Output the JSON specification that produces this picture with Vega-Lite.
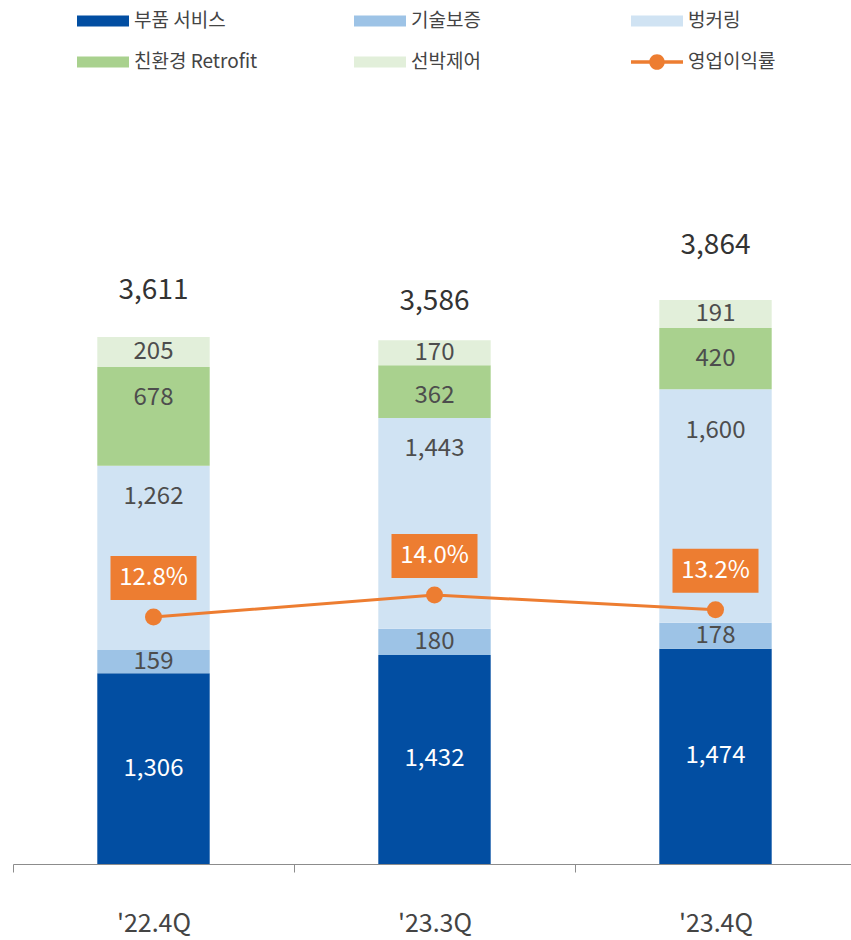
{
  "$schema": "https://vega.github.io/schema/vega-lite/v6.json",
  "width": 838,
  "height": 864,
  "autosize": "none",
  "padding": {"left": 13, "top": 0, "right": 0, "bottom": 76},
  "config": {
    "font": "Noto Sans CJK KR",
    "view": {"stroke": null}
  },
  "datasets": {
    "segs": [
      {"period": "'22.4Q", "cat": "부품 서비스", "k": 1, "value": 1306},
      {"period": "'22.4Q", "cat": "기술보증", "k": 2, "value": 159},
      {"period": "'22.4Q", "cat": "벙커링", "k": 3, "value": 1262},
      {"period": "'22.4Q", "cat": "친환경 Retrofit", "k": 4, "value": 678},
      {"period": "'22.4Q", "cat": "선박제어", "k": 5, "value": 205},
      {"period": "'23.3Q", "cat": "부품 서비스", "k": 1, "value": 1432},
      {"period": "'23.3Q", "cat": "기술보증", "k": 2, "value": 180},
      {"period": "'23.3Q", "cat": "벙커링", "k": 3, "value": 1443},
      {"period": "'23.3Q", "cat": "친환경 Retrofit", "k": 4, "value": 362},
      {"period": "'23.3Q", "cat": "선박제어", "k": 5, "value": 170},
      {"period": "'23.4Q", "cat": "부품 서비스", "k": 1, "value": 1474},
      {"period": "'23.4Q", "cat": "기술보증", "k": 2, "value": 178},
      {"period": "'23.4Q", "cat": "벙커링", "k": 3, "value": 1600},
      {"period": "'23.4Q", "cat": "친환경 Retrofit", "k": 4, "value": 420},
      {"period": "'23.4Q", "cat": "선박제어", "k": 5, "value": 191}
    ],
    "tot": [
      {"period": "'22.4Q", "total": 3611},
      {"period": "'23.3Q", "total": 3586},
      {"period": "'23.4Q", "total": 3864}
    ],
    "rate": [
      {"period": "'22.4Q", "rate": 0.128},
      {"period": "'23.3Q", "rate": 0.140},
      {"period": "'23.4Q", "rate": 0.132}
    ]
  },
  "resolve": {"scale": {"y": "independent"}},
  "layer": [
    {
      "data": {"name": "segs"},
      "transform": [
        {"stack": "value", "groupby": ["period"], "sort": [{"field": "k"}], "as": ["v0", "v1"]},
        {"calculate": "(datum.v0 + datum.v1) / 2", "as": "mid"}
      ],
      "layer": [
        {
          "mark": {"type": "bar"},
          "encoding": {
            "x": {"field": "period", "type": "nominal", "sort": null, "title": null,
                  "scale": {"range": [0, 843], "paddingInner": 0.6, "paddingOuter": 0.3},
                  "axis": {
                    "domainColor": "#8c8c8c",
                    "tickColor": "#8c8c8c",
                    "tickOffset": -140.5,
                    "labelOffset": 140.5,
                    "tickSize": 8,
                    "labelFontSize": 25,
                    "labelColor": "#444444",
                    "labelPadding": 39,
                    "labelAngle": 0,
                    "title": null
                  }},
            "y": {"field": "v0", "type": "quantitative", "axis": null, "scale": {"domain": [0, 5918], "nice": false, "zero": false}},
            "y2": {"field": "v1"},
            "color": {
              "field": "cat", "type": "nominal",
              "scale": {
                "domain": ["부품 서비스", "기술보증", "벙커링", "친환경 Retrofit", "선박제어", "영업이익률"],
                "range": ["#024EA2", "#9DC3E6", "#D0E3F3", "#A9D18E", "#E2EFDA", "#ED7D31"]
              },
              "legend": {
                "title": null,
                "orient": "none",
                "legendX": 77,
                "legendY": 8,
                "direction": "horizontal",
                "columns": 3,
                "gridAlign": "all",
                "columnPadding": 96,
                "rowPadding": 18,
                "padding": 0,
                "symbolType": "M-2,-0.42H2V0.42H-2Z",
                "symbolSize": 676,
                "symbolStrokeWidth": 0,
                "symbolOpacity": 1,
                "labelOffset": 18,
                "labelFontSize": 19,
                "labelColor": "#444444",
                "labelLimit": 300,
                "encode": {
                  "symbols": {
                    "update": {
                      "shape": [
                        {"test": "datum.value === '영업이익률'", "value": "M-2,-0.13H2V0.13H-2Z M-0.6,0A0.6,0.6 0 1,1 0.6,0A0.6,0.6 0 1,1 -0.6,0Z"},
                        {"value": "M-2,-0.42H2V0.42H-2Z"}
                      ]
                    }
                  }
                }
              }
            }
          }
        },
        {
          "transform": [{"filter": "datum.k == 1 || datum.k == 2 || datum.k == 5"}],
          "mark": {"type": "text", "fontSize": 24, "baseline": "middle", "align": "center"},
          "encoding": {
            "x": {"field": "period", "type": "nominal", "sort": null, "title": null},
            "y": {"field": "mid", "type": "quantitative", "axis": null},
            "text": {"field": "value", "type": "quantitative", "format": ","},
            "color": {"condition": {"test": "datum.k == 1", "value": "#ffffff"}, "value": "#4d4d4d"}
          }
        },
        {
          "transform": [{"filter": "datum.k == 4 || (datum.k == 3 && datum.period != \"'23.4Q\")"}],
          "mark": {"type": "text", "fontSize": 24, "baseline": "middle", "align": "center", "dy": 31, "color": "#4d4d4d"},
          "encoding": {
            "x": {"field": "period", "type": "nominal", "sort": null, "title": null},
            "y": {"field": "v1", "type": "quantitative", "axis": null},
            "text": {"field": "value", "type": "quantitative", "format": ","}
          }
        },
        {
          "transform": [{"filter": "datum.k == 3 && datum.period == \"'23.4Q\""}],
          "mark": {"type": "text", "fontSize": 24, "baseline": "middle", "align": "center", "dy": 42, "color": "#4d4d4d"},
          "encoding": {
            "x": {"field": "period", "type": "nominal", "sort": null, "title": null},
            "y": {"field": "v1", "type": "quantitative", "axis": null},
            "text": {"field": "value", "type": "quantitative", "format": ","}
          }
        }
      ]
    },
    {
      "data": {"name": "tot"},
      "encoding": {
        "x": {"field": "period", "type": "nominal", "sort": null, "title": null},
        "y": {"field": "total", "type": "quantitative", "axis": null, "scale": {"domain": [0, 5918], "nice": false, "zero": false}},
        "text": {"field": "total", "type": "quantitative", "format": ","}
      },
      "layer": [
        {
          "transform": [{"filter": "datum.period == \"'22.4Q\""}],
          "mark": {"type": "text", "fontSize": 28, "baseline": "middle", "align": "center", "dy": -46, "color": "#333333"}
        },
        {
          "transform": [{"filter": "datum.period == \"'23.3Q\""}],
          "mark": {"type": "text", "fontSize": 28, "baseline": "middle", "align": "center", "dy": -38, "color": "#333333"}
        },
        {
          "transform": [{"filter": "datum.period == \"'23.4Q\""}],
          "mark": {"type": "text", "fontSize": 28, "baseline": "middle", "align": "center", "dy": -54, "color": "#333333"}
        }
      ]
    },
    {
      "data": {"name": "rate"},
      "encoding": {
        "x": {"field": "period", "type": "nominal", "sort": null, "title": null},
        "y": {"field": "rate", "type": "quantitative", "axis": null, "scale": {"domain": [-0.00675, 0.4646], "nice": false, "zero": false}}
      },
      "layer": [
        {"mark": {"type": "line", "color": "#ED7D31", "strokeWidth": 3}},
        {"mark": {"type": "point", "filled": true, "opacity": 1, "color": "#ED7D31", "size": 290}},
        {"mark": {"type": "point", "filled": true, "opacity": 1, "color": "#ED7D31", "size": 7396, "shape": "M-1,-0.512H1V0.512H-1Z", "yOffset": -39}},
        {
          "mark": {"type": "text", "fontSize": 24, "baseline": "middle", "align": "center", "dy": -39, "color": "#ffffff"},
          "encoding": {"text": {"field": "rate", "type": "quantitative", "format": ".1%"}}
        }
      ]
    }
  ]
}
